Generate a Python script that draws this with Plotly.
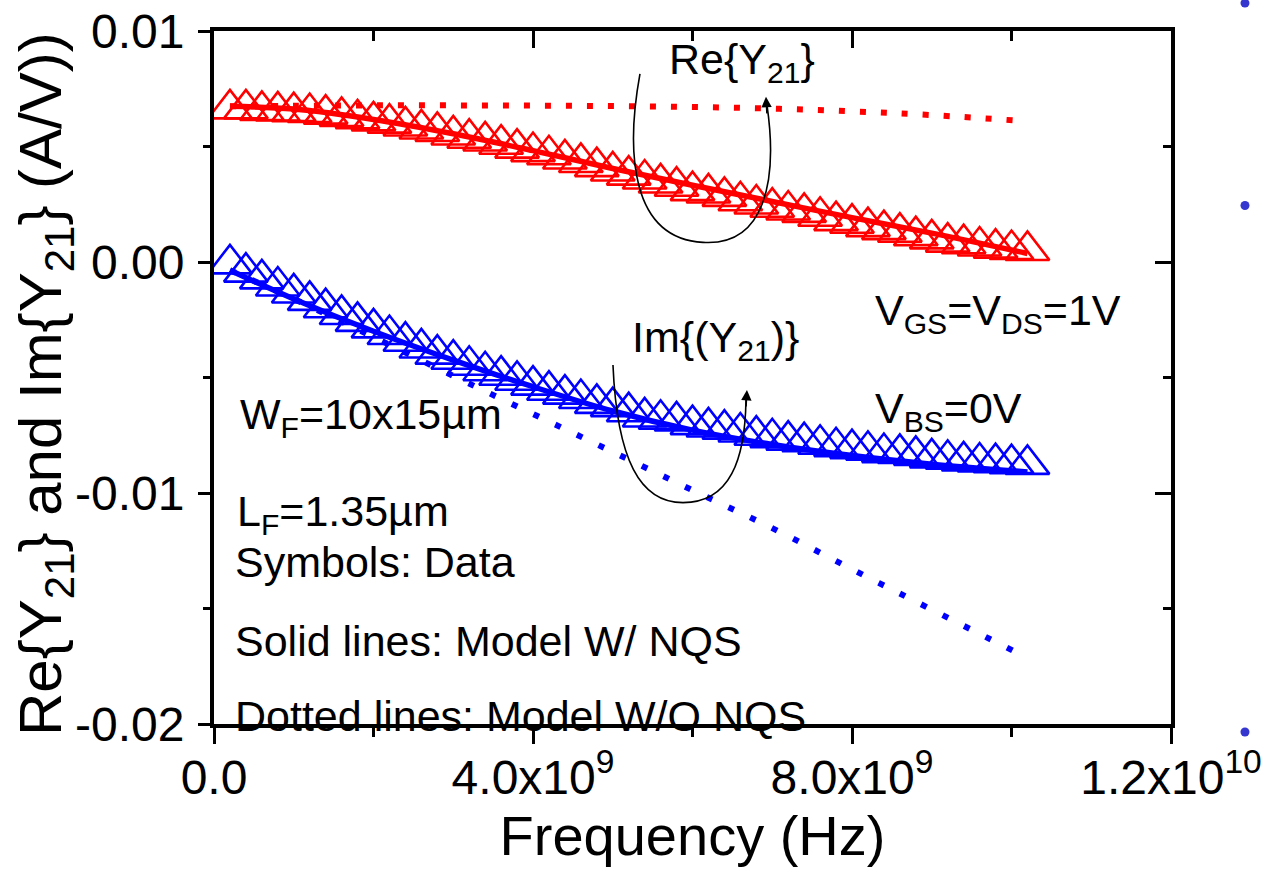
import plotly.graph_objects as go

# ---- measured Y21 sweep (frequency in GHz, admittance in A/V) ----
freq_meas_ghz = [0.2, 0.4, 0.6, 0.8, 1.0, 1.2, 1.4, 1.6, 1.8, 2.0,
                 2.2, 2.4, 2.6, 2.8, 3.0, 3.2, 3.4, 3.6, 3.8, 4.0,
                 4.2, 4.4, 4.6, 4.8, 5.0, 5.2, 5.4, 5.6, 5.8, 6.0,
                 6.2, 6.4, 6.6, 6.8, 7.0, 7.2, 7.4, 7.6, 7.8, 8.0,
                 8.2, 8.4, 8.6, 8.8, 9.0, 9.2, 9.4, 9.6, 9.8, 10.0, 10.2]

re_y21_meas = [0.00663, 0.00663, 0.00656, 0.00654, 0.00651, 0.00647, 0.00640, 0.00630, 0.00620, 0.00611,
               0.00601, 0.00589, 0.00576, 0.00565, 0.00550, 0.00536, 0.00524, 0.00510, 0.00493, 0.00478,
               0.00464, 0.00446, 0.00431, 0.00413, 0.00394, 0.00376, 0.00359, 0.00342, 0.00328, 0.00309,
               0.00299, 0.00284, 0.00265, 0.00251, 0.00237, 0.00225, 0.00215, 0.00198, 0.00179, 0.00168,
               0.00153, 0.00140, 0.00129, 0.00114, 0.00100, 0.00086, 0.00079, 0.00069, 0.00060, 0.00054, 0.00050]

im_y21_meas = [-0.00008, -0.00044, -0.00073, -0.00104, -0.00134, -0.00166, -0.00198, -0.00227, -0.00257, -0.00285,
               -0.00314, -0.00343, -0.00372, -0.00399, -0.00421, -0.00447, -0.00471, -0.00490, -0.00512, -0.00533,
               -0.00555, -0.00572, -0.00591, -0.00612, -0.00626, -0.00648, -0.00671, -0.00681, -0.00688, -0.00704,
               -0.00714, -0.00724, -0.00736, -0.00750, -0.00761, -0.00771, -0.00778, -0.00789, -0.00800, -0.00808,
               -0.00815, -0.00825, -0.00829, -0.00837, -0.00848, -0.00854, -0.00861, -0.00866, -0.00869, -0.00873, -0.00876]

# ---- model curves ----
freq_model_ghz = [0.2, 1.0, 2.0, 3.0, 4.0, 5.0, 6.0, 7.0, 8.0, 9.0, 10.2]
re_y21_nqs = [0.00674, 0.00662, 0.00617, 0.00555, 0.00482, 0.00405, 0.00332, 0.00262, 0.00192, 0.00125, 0.00037]
re_y21_qs = [0.00674, 0.00676, 0.00678, 0.00678, 0.00677, 0.00675, 0.00671, 0.00664, 0.00652, 0.00636, 0.00609]
im_y21_nqs = [-0.00036, -0.00160, -0.00300, -0.00425, -0.00540, -0.00645, -0.00728, -0.00790, -0.00838, -0.00875, -0.00909]
im_y21_qs = [-0.00036, -0.00160, -0.00325, -0.00493, -0.00658, -0.00822, -0.00988, -0.01152, -0.01330, -0.01505, -0.01714]

# ---- axis ticks ----
x_tick_vals = [0, 4e9, 8e9, 1.2e10]
x_tick_text = ["0.0", "4.0x10<sup>9</sup>", "8.0x10<sup>9</sup>", "1.2x10<sup>10</sup>"]
x_minor_vals = [2e9, 6e9, 1e10]
y_tick_vals = [-0.02, -0.01, 0.0, 0.01]
y_tick_text = ["-0.02", "-0.01", "0.00", "0.01"]
y_minor_vals = [-0.015, -0.005, 0.005]

GHZ = 1e9
f_meas = [f * GHZ for f in freq_meas_ghz]
f_model = [f * GHZ for f in freq_model_ghz]

FONT = "Liberation Sans, Arial, sans-serif"
RED = "#ff0000"
BLUE = "#0000ff"

fig = go.Figure()

# measured data: open triangles
fig.add_trace(go.Scatter(x=f_meas, y=re_y21_meas, mode="markers",
                         marker=dict(symbol="triangle-up-open", size=38, color=RED,
                                     line=dict(color=RED, width=2.6)),
                         showlegend=False, hoverinfo="skip"))
fig.add_trace(go.Scatter(x=f_meas, y=im_y21_meas, mode="markers",
                         marker=dict(symbol="triangle-up-open", size=38, color=BLUE,
                                     line=dict(color=BLUE, width=2.6)),
                         showlegend=False, hoverinfo="skip"))

# quasi-static model (dotted)
fig.add_trace(go.Scatter(x=f_model, y=re_y21_qs, mode="lines",
                         line=dict(color=RED, width=6, dash="6px,15px", shape="spline"),
                         showlegend=False, hoverinfo="skip"))
fig.add_trace(go.Scatter(x=f_model, y=im_y21_qs, mode="lines",
                         line=dict(color=BLUE, width=6, dash="6px,18px", shape="spline"),
                         showlegend=False, hoverinfo="skip"))

# NQS model (solid)
fig.add_trace(go.Scatter(x=f_model, y=re_y21_nqs, mode="lines",
                         line=dict(color=RED, width=5.5, shape="spline"),
                         showlegend=False, hoverinfo="skip"))
fig.add_trace(go.Scatter(x=f_model, y=im_y21_nqs, mode="lines",
                         line=dict(color=BLUE, width=5.5, shape="spline"),
                         showlegend=False, hoverinfo="skip"))

# empty trace so the mirrored frame axes (top / right) are drawn
fig.add_trace(go.Scatter(x=[], y=[], xaxis="x2", yaxis="y2", showlegend=False))

axis_common = dict(showline=True, linecolor="black", linewidth=4, showgrid=False,
                   zeroline=False, tickcolor="black", tickwidth=3, automargin=False)

fig.update_layout(
    width=1268, height=874,
    margin=dict(l=214, r=97, t=31, b=150, autoexpand=False),
    paper_bgcolor="white", plot_bgcolor="white",
    font=dict(family=FONT, color="black"),
    xaxis=dict(range=[0, 1.2e10], tickmode="array", tickvals=x_tick_vals, ticktext=x_tick_text,
               ticks="outside", ticklen=16, ticklabelstandoff=-8,
               tickfont=dict(size=48, family=FONT),
               minor=dict(tickmode="array", tickvals=x_minor_vals, ticks="outside",
                          ticklen=9, tickwidth=3, tickcolor="black"),
               title=dict(text="Frequency (Hz)", font=dict(size=56, family=FONT), standoff=14),
               **axis_common),
    yaxis=dict(range=[-0.02, 0.01], tickmode="array", tickvals=y_tick_vals, ticktext=y_tick_text,
               ticks="outside", ticklen=12, ticklabelstandoff=4,
               tickfont=dict(size=48, family=FONT),
               minor=dict(tickmode="array", tickvals=y_minor_vals, ticks="outside",
                          ticklen=7, tickwidth=3, tickcolor="black"),
               **axis_common),
    xaxis2=dict(range=[0, 1.2e10], overlaying="x", side="top", showticklabels=False,
                tickmode="array", tickvals=x_tick_vals, ticks="inside", ticklen=17,
                minor=dict(tickmode="array", tickvals=x_minor_vals, ticks="inside",
                           ticklen=10, tickwidth=3, tickcolor="black"),
                **axis_common),
    yaxis2=dict(range=[-0.02, 0.01], overlaying="y", side="right", showticklabels=False,
                tickmode="array", tickvals=y_tick_vals, ticks="inside", ticklen=16,
                minor=dict(tickmode="array", tickvals=y_minor_vals, ticks="inside",
                           ticklen=8, tickwidth=3, tickcolor="black"),
                **axis_common),
)

# y-axis title as a rotated label
fig.add_annotation(text="Re{Y<sub>21</sub>} and Im{Y<sub>21</sub>} (A/V))",
                   xref="paper", yref="paper", x=-0.176, y=0.49, textangle=-90,
                   showarrow=False, font=dict(size=60, family=FONT, color="black"),
                   xanchor="center", yanchor="middle")

# text labels inside the frame (x in Hz, y in A/V)
labels = [
    ("Re{Y<sub>21</sub>}", 5.68e9, 0.00864),
    ("Im{(Y<sub>21</sub>)}", 5.22e9, -0.00336),
    ("V<sub>GS</sub>=V<sub>DS</sub>=1V", 8.26e9, -0.00220),
    ("V<sub>BS</sub>=0V", 8.26e9, -0.00647),
    ("W<sub>F</sub>=10x15\u00b5m", 0.30e9, -0.00673),
    ("L<sub>F</sub>=1.35\u00b5m", 0.26e9, -0.01092),
    ("Symbols: Data", 0.24e9, -0.01299),
    ("Solid lines: Model W/ NQS", 0.24e9, -0.01640),
    ("Dotted lines: Model W/O NQS", 0.24e9, -0.01964),
]
for txt, lx, ly in labels:
    fig.add_annotation(text=txt, x=lx, y=ly, xref="x", yref="y", showarrow=False,
                       xanchor="left", yanchor="middle",
                       font=dict(size=43, family=FONT, color="black"))

# curved pointer arrows (paper coordinates)
fig.add_shape(type="path", xref="paper", yref="paper",
              path="M 0.4451,0.9381 C 0.4305,0.8273 0.4347,0.7007 0.5110,0.6950 "
                   "C 0.5758,0.6892 0.5893,0.7842 0.5778,0.8935",
              line=dict(color="black", width=1.6))
fig.add_annotation(x=0.5768, y=0.9050, xref="paper", yref="paper", ax=1, ay=18,
                   text="", showarrow=True, arrowhead=2, arrowsize=1.3, arrowwidth=1.6,
                   arrowcolor="black")
fig.add_shape(type="path", xref="paper", yref="paper",
              path="M 0.4169,0.5180 C 0.4211,0.3813 0.4451,0.3194 0.4901,0.3194 "
                   "C 0.5392,0.3194 0.5549,0.3813 0.5559,0.4676",
              line=dict(color="black", width=1.6))
fig.add_annotation(x=0.5569, y=0.4820, xref="paper", yref="paper", ax=-1, ay=18,
                   text="", showarrow=True, arrowhead=2, arrowsize=1.3, arrowwidth=1.6,
                   arrowcolor="black")

# bullet dots at the right page edge
for by in [1.0403, 0.7482, -0.0115]:
    fig.add_shape(type="circle", xref="paper", yref="paper",
                  xsizemode="pixel", ysizemode="pixel", xanchor=1.0773, yanchor=by,
                  x0=-4.5, x1=4.5, y0=-4.5, y1=4.5,
                  fillcolor="#3535d0", line=dict(width=0))

fig.write_html("out.html")
